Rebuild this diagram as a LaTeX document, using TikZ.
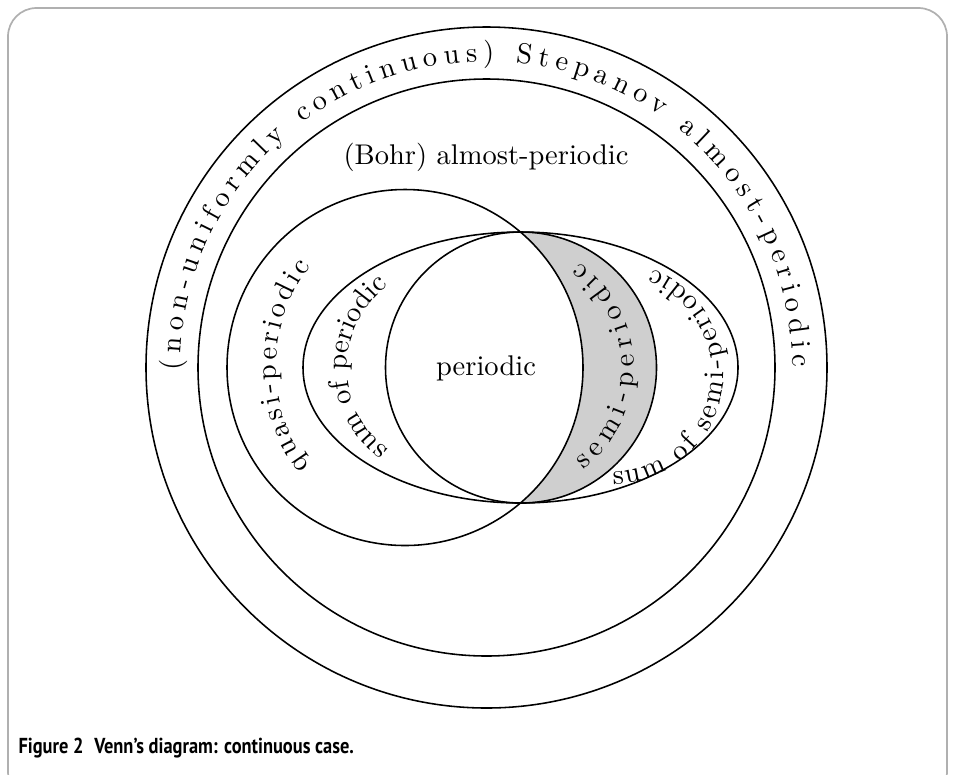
\documentclass[tikz,border=0pt]{standalone}
\usepackage{fontspec}
\newfontfamily\capfont[FakeStretch=0.85]{PT Sans}
\usepackage{tikz}
\usetikzlibrary{calc,decorations.text}
\definecolor{shadex}{HTML}{CFCFCF}
\definecolor{framex}{HTML}{B0B0B0}
\tikzset{
  ln/.style={line width=0.55pt,black},
  frm/.style={draw=framex,line width=0.6pt,rounded corners=10},
  shd/.style={fill=shadex},
  lbl/.style={font=\normalsize,inner sep=0pt},
  capt/.style={font=\capfont\bfseries\fontsize{7.6}{9}\selectfont,inner sep=0pt,anchor=west},
  fitlbl/.style={decorate,decoration={text along path,text align={fit to path},text={#1}}},
  midlbl/.style={decorate,decoration={text along path,text align=center,text={#1}}}
}

\begin{document}
\begin{tikzpicture}[x=0.351pt,y=0.351pt]
\useasboundingbox (0,0) rectangle (955,-774);
\clip (0,0) rectangle (955,-774);
\draw[frm] (8,-8) rectangle (947,-800);
% centres
\coordinate (O) at (486.5,-367.5);
\coordinate (Q) at (405,-367.5);
\coordinate (S) at (521,-367.5);
\coordinate (E) at (520.5,-367.5);
% semi-periodic but not periodic
\begin{scope}
\clip (S) circle[radius=135.5];
\fill[shd,even odd rule] (Q) circle[radius=178] (300,-200) rectangle (700,-540);
\end{scope}
\draw[ln] (O) circle[radius=340.5];
\draw[ln] (O) circle[radius=288.5];
\draw[ln] (Q) circle[radius=178];
\draw[ln] (E) ellipse[x radius=217.5,y radius=135.5];
\draw[ln] (S) circle[radius=135.5];
% labels along arcs
\coordinate (qt) at (441,-367.5);
\coordinate (pt) at (449,-367.5);
\coordinate (st) at (506,-367.5);
\coordinate (sst) at (613,-373);
\path[fitlbl={(non-uniformly continuous) Stepanov almost-periodic}]
  ($(O)+(180.5:306)$) arc[start angle=180.5,end angle=0,radius=306];
\path[fitlbl={quasi-periodic}]
  ($(qt)+(217:165)$) arc[start angle=217,end angle=142,radius=165];
\path[midlbl={sum of periodic}]
  ($(pt)+(240:102)$) arc[start angle=240,end angle=120,radius=102];
\path[fitlbl={semi-periodic}]
  ($(st)+(-53:128)$) arc[start angle=-53,end angle=55,radius=128];
\path[fitlbl={sum of semi-periodic}]
  ($(sst)+(-90:111)$) arc[start angle=-90,end angle=69,radius=111];
% plain labels
\node[lbl] (bohr) at (486,-157) {(Bohr) almost-periodic};
\node[lbl] (per) at (486,-368) {\addfontfeatures{LetterSpace=4}periodic};
\node[capt] (cap) at (18,-748) {Figure 2\enspace Venn’s diagram: continuous case.};
\end{tikzpicture}
\end{document}
